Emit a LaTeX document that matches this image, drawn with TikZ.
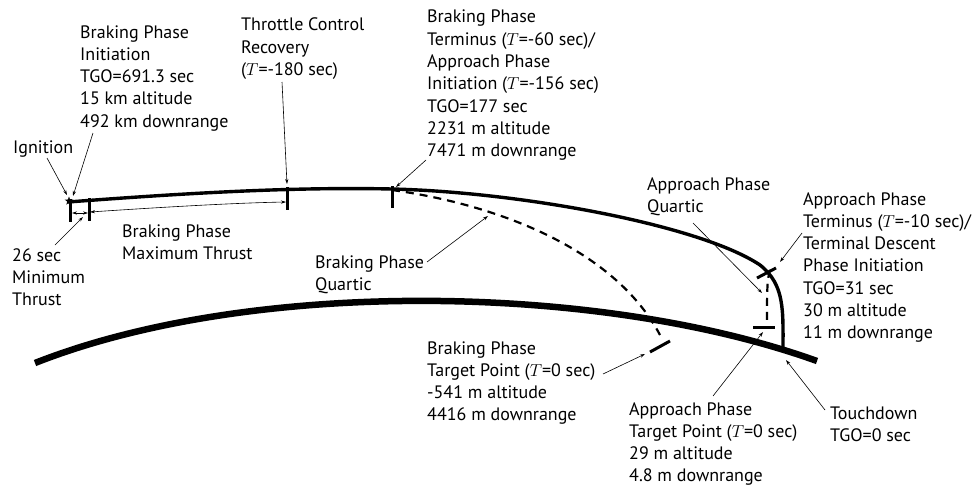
\documentclass[tikz,border=0pt]{standalone}
\usepackage{fontspec}
\setmainfont{PT Sans}
\usetikzlibrary{arrows.meta,shapes.geometric}
\newcommand{\mlines}[1]{\vtop{\baselineskip=22.3pt\lineskiplimit=-20pt\let\\\cr\halign{##\hfil\cr#1\crcr}}}
\tikzset{
  lbl/.style={anchor=base west, inner sep=0pt, font=\fontsize{18}{22.3}\selectfont},
  ptr/.style={line width=0.6pt, -{Stealth[length=5pt,width=3.2pt]}},
  dimarr/.style={line width=0.6pt, {Stealth[length=5pt,width=3.2pt]}-{Stealth[length=5pt,width=3.2pt]}},
  traj/.style={line width=3.4pt},
  surf/.style={line width=6.5pt},
  tickmark/.style={line width=3pt},
  quart/.style={line width=2.2pt, dash pattern=on 8pt off 6pt},
}
\begin{document}
\begin{tikzpicture}[x=1pt,y=-1pt]
\useasboundingbox (0,0) rectangle (973,487);
% surface
\draw[surf] (35,363) .. controls (250,278) and (600,283) .. (817,361);
% trajectory
\draw[traj] (68,202) .. controls (200,192) and (300,187) .. (392,189)
  .. controls (520,192) and (700,225) .. (760,265)
  .. controls (785,285) and (783,310) .. (783,351);
% braking quartic
\draw[quart] (392,190) .. controls (500,205) and (615,250) .. (660,335);
% approach quartic
\draw[quart] (770,270) .. controls (767,280) and (767,290) .. (767,325);
% ticks
\draw[tickmark] (70,199) -- (70,222);
\draw[tickmark] (89,198) -- (89,221);
\draw[tickmark] (287,187) -- (287,210);
\draw[tickmark] (392,186) -- (392,208);
\draw[tickmark] (650,352) -- (670,341);
\draw[tickmark] (757,278) -- (776,268);
\draw[tickmark] (753,327) -- (775,327);
% ignition star
\node[star, star points=5, star point ratio=2.4, fill=black, inner sep=0pt, minimum size=9pt] (ign) at (69,201) {};

% labels
\node[lbl] (bpi) at (80,38) {\mlines{Braking Phase\\Initiation\\TGO=691.3 sec\\15 km altitude\\492 km downrange}};
\node[lbl] (ignl) at (13,153) {\mlines{Ignition}};
\node[lbl] (tcr) at (241,31) {\mlines{Throttle Control\\Recovery\\($T$=-180 sec)}};
\node[lbl] (bpt) at (427,23) {\mlines{Braking Phase\\Terminus ($T$=-60 sec)/\\Approach Phase\\Initiation ($T$=-156 sec)\\TGO=177 sec\\2231 m altitude\\7471 m downrange}};
\node[lbl] (apq) at (647,190) {\mlines{Approach Phase\\Quartic}};
\node[lbl] (apt) at (803,205) {\mlines{Approach Phase\\Terminus ($T$=-10 sec)/\\Terminal Descent\\Phase Initiation\\TGO=31 sec\\30 m altitude\\11 m downrange}};
\node[lbl] (mint) at (12,261) {\mlines{26 sec\\Minimum\\Thrust}};
\node[lbl] (maxt) at (122,237) {\mlines{Braking Phase\\Maximum Thrust}};
\node[lbl] (bpq) at (315,268) {\mlines{Braking Phase\\Quartic}};
\node[lbl] (btp) at (427,354) {\mlines{Braking Phase\\Target Point ($T$=0 sec)\\-541 m altitude\\4416 m downrange}};
\node[lbl] (atp) at (629,415) {\mlines{Approach Phase\\Target Point ($T$=0 sec)\\29 m altitude\\4.8 m downrange}};
\node[lbl] (tdl) at (830,419) {\mlines{Touchdown\\TGO=0 sec}};

% pointer coordinates
\coordinate (bpiS) at (93,133);   \coordinate (bpiE) at (73,196);
\coordinate (ignS) at (47,158);   \coordinate (ignE) at (67,195);
\coordinate (tcrS) at (282,82);   \coordinate (tcrE) at (287,184);
\coordinate (bptS) at (426,160);  \coordinate (bptE) at (396,187);
\coordinate (bpqS) at (427,262);  \coordinate (bpqE) at (488,216);
\coordinate (apqS) at (693,223);  \coordinate (apqE) at (762,293);
\coordinate (aptS) at (802,233);  \coordinate (aptE) at (780,262);
\coordinate (mintS) at (55,245);  \coordinate (mintE) at (83,217);
\coordinate (btpS) at (603,374);  \coordinate (btpE) at (645,354);
\coordinate (atpS) at (713,396);  \coordinate (atpE) at (763,332);
\coordinate (tdS) at (825,410);   \coordinate (tdE) at (786,360);
\coordinate (d1a) at (72,213);    \coordinate (d1b) at (88,213);
\coordinate (d2a) at (90,212);    \coordinate (d2b) at (286,202);

\draw[ptr] (bpiS) -- (bpiE);
\draw[ptr] (ignS) -- (ignE);
\draw[ptr] (tcrS) -- (tcrE);
\draw[ptr] (bptS) -- (bptE);
\draw[ptr] (bpqS) -- (bpqE);
\draw[ptr] (apqS) -- (apqE);
\draw[ptr] (aptS) -- (aptE);
\draw[ptr] (mintS) -- (mintE);
\draw[ptr] (btpS) -- (btpE);
\draw[ptr] (atpS) -- (atpE);
\draw[ptr] (tdS) -- (tdE);
\draw[dimarr] (d1a) -- (d1b);
\draw[dimarr] (d2a) .. controls (150,208) and (230,203) .. (d2b);
\end{tikzpicture}
\end{document}
